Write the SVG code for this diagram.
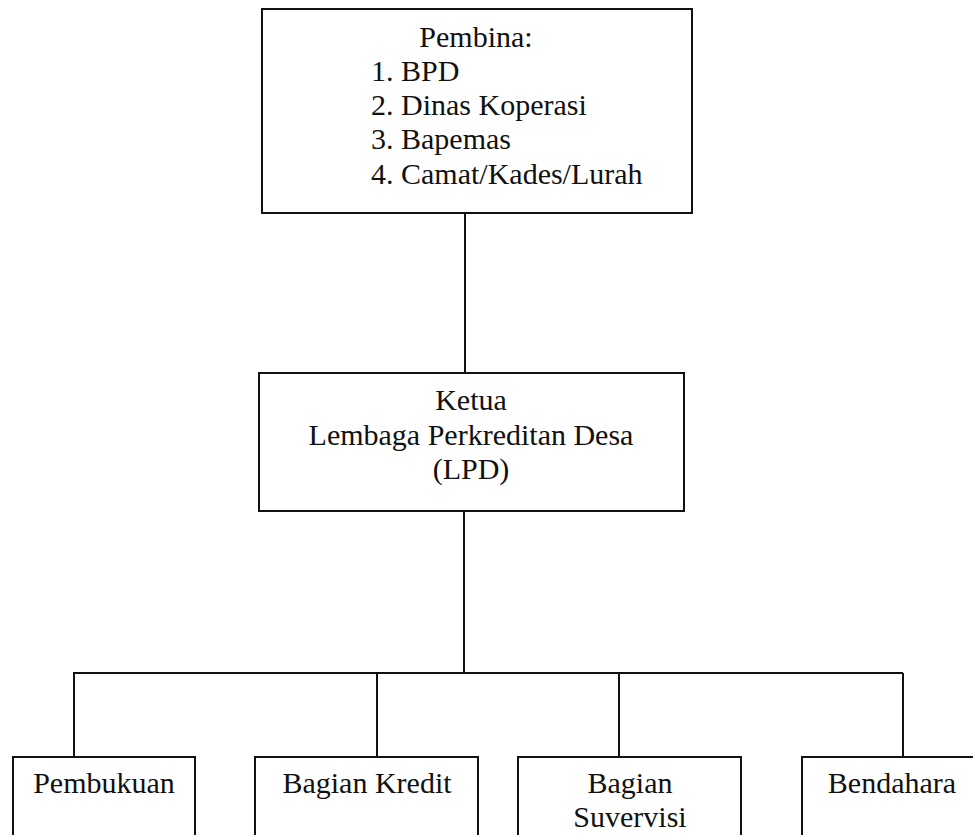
<svg xmlns="http://www.w3.org/2000/svg" width="973" height="835" viewBox="0 0 973 835">
  <style>
    .box { fill: #ffffff; stroke: #111111; stroke-width: 2; }
    .wire { fill: none; stroke: #111111; stroke-width: 2; }
    text { font-family: "Liberation Serif", "Times New Roman", serif; font-size: 30px; fill: #111111; }
    .c { text-anchor: middle; }
  </style>
  <rect width="973" height="835" fill="#ffffff"/>

  <!-- connectors -->
  <g id="connectors">
    <line class="wire" x1="465" y1="213" x2="465" y2="373"/>
    <line class="wire" x1="464" y1="511" x2="464" y2="672"/>
    <line class="wire" x1="73" y1="673" x2="903" y2="673"/>
    <line class="wire" x1="74" y1="673" x2="74" y2="757"/>
    <line class="wire" x1="377" y1="673" x2="377" y2="757"/>
    <line class="wire" x1="619" y1="673" x2="619" y2="757"/>
    <line class="wire" x1="903" y1="673" x2="903" y2="757"/>
  </g>

  <!-- supervisory board -->
  <g id="pembina">
    <rect class="box" x="262" y="9" width="430" height="204"/>
    <text class="c" x="476" y="47">Pembina:</text>
    <text x="371" y="81">1. BPD</text>
    <text x="371" y="115">2. Dinas Koperasi</text>
    <text x="371" y="149">3. Bapemas</text>
    <text x="371" y="184">4. Camat/Kades/Lurah</text>
  </g>

  <!-- chairman -->
  <g id="ketua">
    <rect class="box" x="259" y="373" width="425" height="138"/>
    <text class="c" x="471" y="410">Ketua</text>
    <text class="c" x="471" y="445">Lembaga Perkreditan Desa</text>
    <text class="c" x="471" y="479">(LPD)</text>
  </g>

  <!-- departments -->
  <g id="pembukuan">
    <rect class="box" x="13" y="757" width="182" height="100"/>
    <text class="c" x="104" y="793">Pembukuan</text>
  </g>
  <g id="bagian-kredit">
    <rect class="box" x="255" y="757" width="223" height="100"/>
    <text class="c" x="367" y="793">Bagian Kredit</text>
  </g>
  <g id="bagian-suvervisi">
    <rect class="box" x="518" y="757" width="223" height="100"/>
    <text class="c" x="630" y="793">Bagian</text>
    <text class="c" x="630" y="827">Suvervisi</text>
  </g>
  <g id="bendahara">
    <rect class="box" x="802" y="757" width="180" height="100"/>
    <text class="c" x="892" y="793">Bendahara</text>
  </g>
</svg>
